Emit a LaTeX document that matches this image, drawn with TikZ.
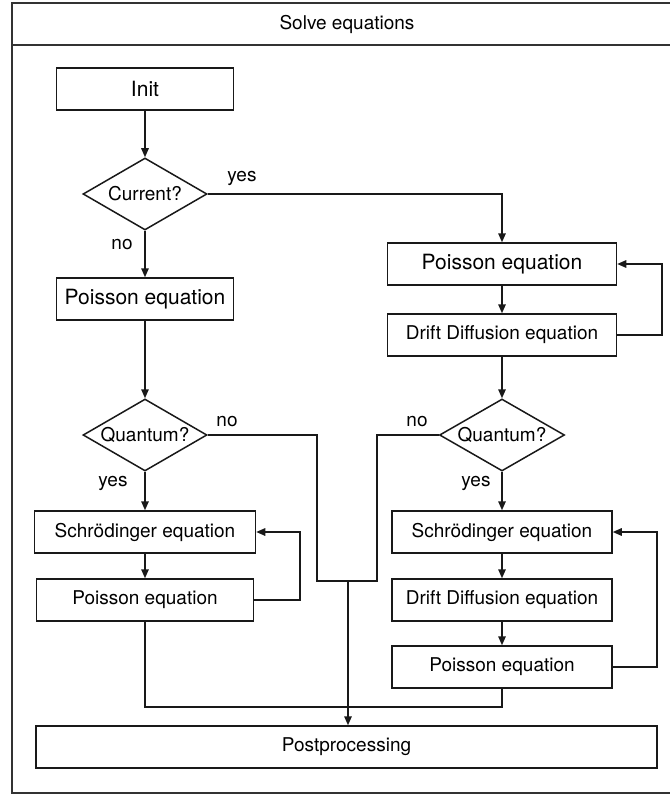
\documentclass[tikz,border=0pt]{standalone}
\usepackage{fontspec}
\setmainfont{TeX Gyre Heros}
\usetikzlibrary{shapes.geometric,arrows.meta}
\tikzset{
  every picture/.style={x=1pt,y=-1pt},
  line/.style={draw=black!90,line width=1.5pt},
  arr/.style={line,-{Triangle[length=9pt,width=7.5pt]}},
  big/.style={font=\fontsize{21}{24}\selectfont},
  small/.style={font=\fontsize{19}{22}\selectfont},
  box/.style={draw=black!90,line width=1.5pt,rectangle,inner sep=0pt,minimum height=42pt,small},
  dec/.style={draw=black!90,line width=1.5pt,diamond,aspect=1.72,inner sep=0pt,minimum width=124pt,minimum height=72pt,small},
  lab/.style={small,inner sep=0pt}
}
\begin{document}
\begin{tikzpicture}
\useasboundingbox (0,0) rectangle (669,794);
% frame
\draw[draw=black!80,line width=1.7pt] (12,3) rectangle (682,793);
\draw[draw=black!80,line width=1.7pt] (12,45) -- (682,45);
\node[lab] (title) at (347,24) {Solve equations};
% left column
\node[box,big,minimum width=177pt] (init) at (145,89) {Init};
\node[dec] (cur) at (145,194) {Current?};
\node[box,big,minimum width=177pt] (pL) at (145,299) {Poisson equation};
\node[dec] (qL) at (145,435) {Quantum?};
\node[box,minimum width=221pt] (sL) at (145,532) {Schrödinger equation};
\node[box,minimum width=217pt] (poL) at (145,600) {Poisson equation};
% right column
\node[box,big,minimum width=229pt] (pR) at (502,264) {Poisson equation};
\node[box,minimum width=229pt] (ddR) at (502,335) {Drift Diffusion equation};
\node[dec,minimum width=125pt] (qR) at (502,435) {Quantum?};
\node[box,minimum width=220pt] (sR) at (502,532) {Schrödinger equation};
\node[box,minimum width=220pt] (ddR2) at (502,600) {Drift Diffusion equation};
\node[box,minimum width=220pt] (poR) at (502,667) {Poisson equation};
% bottom
\node[box,minimum width=621pt] (post) at (346.5,747) {Postprocessing};
% coordinates
\coordinate (yesc) at (502,194);
\coordinate (loopL) at (300,600);
\coordinate (loopR1) at (662,335);
\coordinate (loopR2) at (657,667);
\coordinate (nL) at (317,581);
\coordinate (nR) at (377,581);
\coordinate (j) at (348,581);
\coordinate (bot) at (145,707);
\coordinate (botR) at (502,707);
% connectors
\draw[arr] (init) -- (cur);
\draw[arr] (cur) -- (pL);
\node[lab] (noA) at (122,245) {no};
\draw[arr] (cur.east) -- (yesc) -- (pR.north);
\node[lab] (yesA) at (242,178) {yes};
\draw[arr] (pL) -- (qL);
\draw[arr] (qL) -- (sL);
\node[lab] (yesB) at (113,483) {yes};
\draw[arr] (sL) -- (poL);
\draw[arr] (poL.east) -- (loopL) |- (sL.east);
\draw[arr] (pR) -- (ddR);
\draw[arr] (ddR.east) -- (loopR1) |- (pR.east);
\draw[arr] (ddR) -- (qR);
\draw[arr] (qR) -- (sR);
\node[lab] (yesC) at (476,483) {yes};
\draw[arr] (sR) -- (ddR2);
\draw[arr] (ddR2) -- (poR);
\draw[arr] (poR.east) -- (loopR2) |- (sR.east);
\draw[line] (qL.east) -| (nL) -- (nR) |- (qR.west);
\node[lab] (noB) at (227,422) {no};
\node[lab] (noC) at (417,422) {no};
\draw[arr] (j) -- (j |- post.north);
\draw[line] (poL.south) -- (bot) -- (botR) -- (poR.south);
\end{tikzpicture}
\end{document}
